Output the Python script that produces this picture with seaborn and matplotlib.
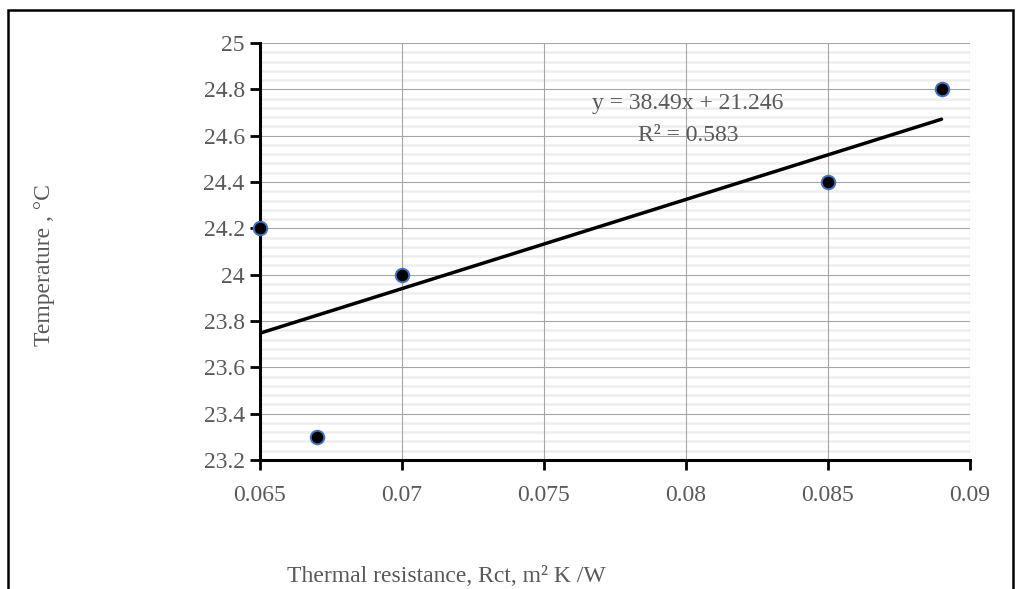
import numpy as np
import pandas as pd
import matplotlib
matplotlib.use("Agg")
import matplotlib.pyplot as plt
import seaborn as sns
from matplotlib.ticker import MultipleLocator

# dados
resistencia = [0.065, 0.067, 0.07, 0.085, 0.089]
temperatura = [24.2, 23.3, 24.0, 24.4, 24.8]
rotulos_x = ['0.065', '0.07', '0.075', '0.08', '0.085', '0.09']
rotulos_y = ['23.2', '23.4', '23.6', '23.8', '24', '24.2', '24.4', '24.6', '24.8', '25']

sns.set_theme(style="white")
plt.rcParams['font.family'] = ['Liberation Serif', 'DejaVu Serif']

CINZA = '#595959'
TAM = 17

df = pd.DataFrame({'x': resistencia, 'y': temperatura})
coef = np.polyfit(df['x'], df['y'], 1)
pred = np.polyval(coef, df['x'])
r2 = 1 - ((df['y'] - pred) ** 2).sum() / ((df['y'] - df['y'].mean()) ** 2).sum()

fig = plt.figure(figsize=(10.22, 5.89), dpi=100)
ax = fig.add_axes([0.2544, 0.219, 0.6947, 0.708])

# borda da figura (parte de baixo cortada)
fig.patches.append(plt.Rectangle((0.008, -0.05), 0.983, 1.033, transform=fig.transFigure,
                                 fill=False, edgecolor='black', linewidth=1.8))

ax.set_xlim(0.065, 0.09)
ax.set_ylim(23.2, 25)
ax.xaxis.set_major_locator(MultipleLocator(0.005))
ax.yaxis.set_major_locator(MultipleLocator(0.2))
ax.yaxis.set_minor_locator(MultipleLocator(0.04))

ax.grid(which='minor', axis='y', color='#eeeeee', linewidth=1.8)
ax.grid(which='major', axis='both', color='#a6a6a6', linewidth=0.8)
ax.set_axisbelow(True)
# linhas verticais por cima das secundárias
ax.yaxis.set_zorder(0.3)
ax.xaxis.set_zorder(0.4)

sns.regplot(data=df, x='x', y='y', scatter=False, ci=None, truncate=True,
            line_kws={'color': 'black', 'linewidth': 2.5}, ax=ax)
sns.scatterplot(data=df, x='x', y='y', ax=ax, s=95, color='black',
                edgecolor='#4472C4', linewidth=1.4, zorder=5, clip_on=False)

for lado in ['top', 'right']:
    ax.spines[lado].set_visible(False)
for lado in ['left', 'bottom']:
    ax.spines[lado].set_color('black')
    ax.spines[lado].set_linewidth(2.2)
    ax.spines[lado].set_zorder(3)

ax.tick_params(axis='both', which='major', direction='out', length=7, width=2,
               color='black', labelsize=TAM, labelcolor=CINZA, pad=4, left=True, bottom=True)
ax.tick_params(axis='x', which='major', pad=11)
ax.tick_params(axis='y', which='minor', left=False)
ax.set_xticks(np.arange(0.065, 0.0901, 0.005))
ax.set_xticklabels(rotulos_x)
ax.set_yticks(np.arange(23.2, 25.01, 0.2))
ax.set_yticklabels(rotulos_y)

ax.set_xlabel('')
ax.set_ylabel('')
fig.text(0.437, 0.004, 'Thermal resistance, Rct, m² K /W', ha='center', va='bottom',
         fontsize=TAM, color=CINZA)
fig.text(0.044, 0.55, 'Temperature , °C', rotation=90, ha='center', va='center',
         fontsize=TAM, color=CINZA)

fig.text(0.673, 0.825, f'y = {coef[0]:.2f}x + {coef[1]:.3f}', ha='center', va='center',
         fontsize=TAM, color=CINZA)
fig.text(0.673, 0.770, f'R² = {r2:.3f}', ha='center', va='center',
         fontsize=TAM, color=CINZA)

fig.savefig('out.png', dpi=100)
